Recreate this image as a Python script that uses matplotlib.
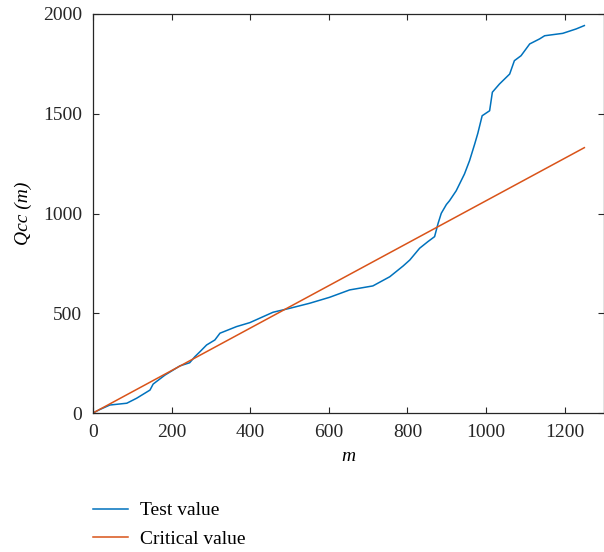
import matplotlib.pyplot as plt

plt.rcParams['font.family'] = ['Liberation Serif', 'DejaVu Serif']

# Test statistic Qcc(m) against sample index m
test_m = [0, 18, 43, 86, 111, 145, 153, 183, 221, 246, 259, 272, 289, 310, 323,
          365, 399, 433, 458, 501, 551, 602, 653, 712, 755, 789, 806, 831, 852,
          869, 878, 886, 899, 907, 924, 945, 958, 971, 979, 990, 1009, 1016,
          1034, 1060, 1072, 1089, 1111, 1136, 1149, 1195, 1229, 1250]
test_val = [0, 18, 40, 49, 74, 115, 145, 190, 236, 252, 282, 307, 341, 366, 400,
            433, 453, 483, 505, 525, 550, 580, 617, 637, 683, 737, 767, 826, 859,
            884, 951, 1001, 1045, 1064, 1114, 1198, 1265, 1348, 1402, 1490, 1515,
            1608, 1649, 1699, 1766, 1791, 1850, 1875, 1891, 1903, 1925, 1942]

# Critical value line
crit_m = [0, 1250]
crit_val = [0, 1330]

fig = plt.figure(figsize=(6.04, 5.52), dpi=100)
ax = fig.add_axes([93 / 604, 1 - 413 / 552, 511 / 604, 399 / 552])

ax.plot(test_m, test_val, color='#0072BD', lw=1.1, label='Test value')
ax.plot(crit_m, crit_val, color='#D95319', lw=1.1, label='Critical value')

ax.set_xlim(0, 1300)
ax.set_ylim(0, 2000)
ax.set_xticks([0, 200, 400, 600, 800, 1000, 1200])
ax.set_yticks([0, 500, 1000, 1500, 2000])

for s in ax.spines.values():
    s.set_color('#262626')
    s.set_linewidth(0.9)
ax.tick_params(direction='in', length=4, width=0.8, top=True, right=True,
               labelsize=14, colors='#262626', pad=8)

ax.set_xlabel('m', fontsize=14, style='italic', labelpad=5)
ax.set_ylabel('Qcc (m)', fontsize=14, style='italic', labelpad=8)

# legend sits under the plot, left-aligned with the axes
fig.legend(loc='center left', bbox_to_anchor=(93 / 604, 1 - 525 / 552),
           frameon=False, fontsize=14, borderpad=0, borderaxespad=0,
           handlelength=1.8, handletextpad=0.6, labelspacing=0.58)

fig.savefig('out.png', dpi=100)
